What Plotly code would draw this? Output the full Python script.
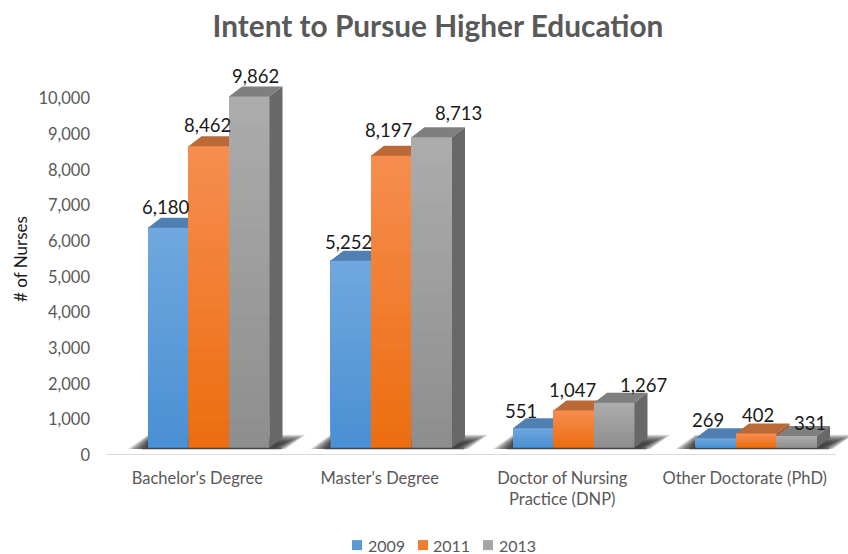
import plotly.graph_objects as go

categories = ["Bachelor's Degree", "Master's Degree", "Doctor of Nursing<br>Practice (DNP)", "Other Doctorate (PhD)"]
series_names = ["2009", "2011", "2013"]
values_2009 = [6180, 5252, 551, 269]
values_2011 = [8462, 8197, 1047, 402]
values_2013 = [9862, 8713, 1267, 331]
y_ticks = list(range(0, 11000, 1000))
series_colors = ["#5B9BD5", "#ED7D31", "#A5A5A5"]

# data label nudges in pixels (labels were hand placed in the original)
label_dx = [[-3, -2, -12, -8], [-1, -3, -1, 2], [6, 27, 29, 13]]
label_dy = [[21, 19, 17, 18], [21, 26, 21, 19], [20, 24, 18, 13]]
# legend positions in pixels: swatch left, text left
legend_swatch_x = [352, 418, 483]
legend_text_x = [366, 431, 497]

W, H = 848, 554
L, R, B = 106, 0, 99
PX = 1 / 182.5
PY = 10000 / 356
Y_MAX = 11000
T = H - B - Y_MAX / PY
X_MIN, X_END = -0.5, 3.5
X_MAX = X_MIN + (W - L - R) * PX
BAR_W = 40.5 * PX
FLOOR = 200
SHIFT = 11.5 * PX
DX, DY = 13 * PX, 10 * PY
BANDS = 24
SHADOW_LAYERS = 12

styles = [
    dict(bottom=(74, 144, 212), top=(112, 167, 222), roof="#4F7FB3", side="#3F6A99"),
    dict(bottom=(236, 110, 16), top=(246, 141, 79), roof="#BB6A37", side="#A8562A"),
    dict(bottom=(142, 142, 142), top=(172, 172, 172), roof="#7F7F7F", side="#686868"),
]
all_values = [values_2009, values_2011, values_2013]
FONT = "Lato"

fig = go.Figure()
xs = list(range(4))


def poly(px, py, color, xa="x", ya="y"):
    fig.add_trace(go.Scatter(x=px, y=py, mode="lines", fill="toself", fillcolor=color,
                             line=dict(width=0), hoverinfo="skip", showlegend=False,
                             cliponaxis=False, xaxis=xa, yaxis=ya))


# floor shadows: soft wedge built from translucent layers
for i in xs:
    left = i + SHIFT - 1.5 * BAR_W
    right = i + SHIFT + 1.5 * BAR_W
    for n in range(SHADOW_LAYERS):
        f = 1 - n / SHADOW_LAYERS
        a, c, d = 20 * f, 13 + 23 * f, 16 * f
        top = 4 + 9 * f
        poly([left - a * PX, left, right + c * PX, right + d * PX],
             [FLOOR - 30, FLOOR + top * PY, FLOOR + top * PY, FLOOR - 30],
             "rgba(40,40,40,0.15)")
    poly([left - 6 * PX, right + 12 * PX, right + 12 * PX, left - 6 * PX],
         [FLOOR - 45, FLOOR - 45, FLOOR + 10, FLOOR + 10], "rgba(70,70,70,0.5)")

# one overlaid subplot per series so that later series cover earlier ones
for s, vals in enumerate(all_values):
    st = styles[s]
    xa, ya = f"x{s + 2}", f"y{s + 2}"
    centers = [i + SHIFT + (s - 1) * BAR_W for i in xs]
    fig.add_trace(go.Bar(x=centers, y=vals, base=FLOOR, width=BAR_W, name=series_names[s],
                         marker=dict(color="rgb" + str(tuple(round(c) for c in st["bottom"])), line_width=0),
                         cliponaxis=False, showlegend=False, xaxis=xa, yaxis=ya))
    for k in range(1, BANDS):
        f = k / (BANDS - 1)
        col = tuple(round(a + (b - a) * f) for a, b in zip(st["bottom"], st["top"]))
        fig.add_trace(go.Bar(x=centers, y=[v * (1 - k / BANDS) for v in vals],
                             base=[FLOOR + v * k / BANDS for v in vals], width=BAR_W,
                             marker=dict(color=f"rgb{col}", line_width=0), hoverinfo="skip",
                             showlegend=False, cliponaxis=False, xaxis=xa, yaxis=ya))
    for c, v in zip(centers, vals):
        l, r = c - BAR_W / 2, c + BAR_W / 2
        t = FLOOR + v
        poly([l, r, r + DX, l + DX], [t, t, t + DY, t + DY], st["roof"], xa, ya)
        poly([r, r + DX, r + DX, r], [FLOOR, FLOOR + DY, t + DY, t], st["side"], xa, ya)

# data labels
for s, vals in enumerate(all_values):
    for i, v in enumerate(vals):
        fig.add_annotation(x=i + SHIFT + (s - 1) * BAR_W, y=FLOOR + v, text=f"{v:,}", showarrow=False,
                           xref="x", yref="y", xshift=label_dx[s][i], yshift=label_dy[s][i],
                           font=dict(family=FONT, size=18.5, color="#1a1a1a"))

# legend row, placed like the original (tight swatch-to-text gap)
for s, name in enumerate(series_names):
    fig.add_shape(type="rect", xref="paper", yref="paper", line_width=0, fillcolor=series_colors[s],
                  x0=(legend_swatch_x[s] - L) / (W - L - R), x1=(legend_swatch_x[s] + 10 - L) / (W - L - R),
                  y0=-(540 - (H - B)) / (H - B - T), y1=-(550 - (H - B)) / (H - B - T))
    fig.add_annotation(xref="paper", yref="paper", x=(legend_text_x[s] - L) / (W - L - R),
                       y=-(545 - (H - B)) / (H - B - T), text=name, showarrow=False,
                       xanchor="left", yanchor="middle",
                       font=dict(family=FONT, size=16, color="#595959"))

# category axis line stops short of the right edge
fig.add_shape(type="line", xref="x", yref="y", x0=X_MIN, x1=X_END, y0=0, y1=0,
              line=dict(color="#D9D9D9", width=2), layer="below")

axis_common = dict(range=[X_MIN, X_MAX], fixedrange=True)
yaxis_common = dict(range=[0, Y_MAX], fixedrange=True)
layout = dict(
    width=W, height=H, margin=dict(l=L, r=R, t=T, b=B, autoexpand=False),
    paper_bgcolor="white", plot_bgcolor="white", barmode="overlay", showlegend=False,
    font=dict(family=FONT),
    title=dict(text="<b>Intent to Pursue Higher Education</b>", x=438 / W, xanchor="center",
               y=1 - 27 / H, yanchor="middle", font=dict(family=FONT, size=29.8, color="#595959")),
    xaxis=dict(**axis_common, tickvals=xs, ticktext=categories, showline=False,
               ticks="", showgrid=False, zeroline=False, ticklabelstandoff=11,
               tickfont=dict(family=FONT, size=16.5, color="#595959")),
    yaxis=dict(**yaxis_common, tickvals=y_ticks, tickformat=",", showline=False, showgrid=False, zeroline=False,
               ticks="", ticklabelstandoff=15, tickfont=dict(family=FONT, size=16.5, color="#595959"),
               title=dict(text="# of Nurses", standoff=6, font=dict(family=FONT, size=17, color="#1a1a1a"))),
)
for s in range(2, 5):
    layout[f"xaxis{s}"] = dict(**axis_common, overlaying="x", visible=False)
    layout[f"yaxis{s}"] = dict(**yaxis_common, overlaying="y", visible=False)
fig.update_layout(**layout)

fig.write_html("out.html", config={"displayModeBar": False}, post_script="document.body.style.margin='0';")
